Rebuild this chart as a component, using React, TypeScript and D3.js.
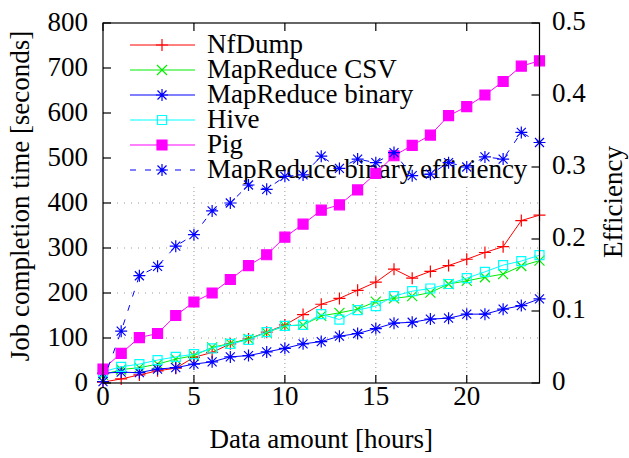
import React from 'react';
import * as d3 from 'd3';

// hours of data processed
const hours = [0, 1, 2, 3, 4, 5, 6, 7, 8, 9, 10, 11, 12, 13, 14, 15, 16, 17, 18, 19, 20, 21, 22, 23, 24];

// job completion time [s]
const nfDump = [2, 9, 18, 27, 33, 57, 68, 87, 98, 113, 129, 152, 175, 188, 206, 224, 253, 233, 248, 261, 275, 290, 303, 361, 373];
const mrCsv = [18, 30, 34, 42, 53, 61, 79, 88, 98, 112, 127, 129, 149, 156, 164, 181, 188, 193, 201, 220, 227, 235, 242, 260, 272];
const mrBinary = [22, 24, 23, 31, 34, 42, 47, 58, 61, 69, 77, 87, 92, 104, 110, 121, 133, 135, 142, 144, 153, 153, 164, 172, 187];
const hive = [25, 36, 42, 51, 58, 64, 77, 87, 96, 113, 127, 129, 153, 141, 162, 171, 193, 204, 210, 220, 233, 247, 262, 271, 284];
const pig = [31, 66, 101, 110, 150, 180, 200, 230, 261, 285, 324, 353, 384, 396, 429, 466, 505, 528, 551, 594, 614, 640, 670, 704, 716];

// right axis
const efficiency = [0.002, 0.072, 0.149, 0.162, 0.19, 0.206, 0.239, 0.25, 0.275, 0.269, 0.287, 0.289, 0.315, 0.298, 0.311, 0.306, 0.32, 0.288, 0.29, 0.306, 0.3, 0.314, 0.311, 0.348, 0.334];

const xTicks = [0, 5, 10, 15, 20];
const yTicks = [0, 100, 200, 300, 400, 500, 600, 700, 800];
const y2Ticks = [0, 0.1, 0.2, 0.3, 0.4, 0.5];

const width = 629;
const height = 458;
const plot = { left: 103, right: 539.5, top: 23, bottom: 383 };
const font = "'Liberation Serif', 'DejaVu Serif', serif";
const fs = 27;

// marker shapes
const plus = (s: number) => `M${-s},0H${s}M0,${-s}V${s}`;
const cross = (s: number) => `M${-s},${-s}L${s},${s}M${-s},${s}L${s},${-s}`;
const star = (s: number) => plus(s) + cross(s * 0.75);
const square = (s: number) => `M${-s},${-s}H${s}V${s}H${-s}Z`;

const series = [
    { label: 'NfDump', values: nfDump, color: '#ff0000', marker: plus(6), fill: 'none', right: false, dash: undefined },
    { label: 'MapReduce CSV', values: mrCsv, color: '#00ee00', marker: cross(5), fill: 'none', right: false, dash: undefined },
    { label: 'MapReduce binary', values: mrBinary, color: '#0000ff', marker: star(6), fill: 'none', right: false, dash: undefined },
    { label: 'Hive', values: hive, color: '#00ffff', marker: square(4.5), fill: 'none', right: false, dash: undefined },
    { label: 'Pig', values: pig, color: '#ff00ff', marker: square(5), fill: '#ff00ff', right: false, dash: undefined },
    { label: 'MapReduce binary efficiency', values: efficiency, color: '#0000ff', marker: star(6), fill: 'none', right: true, dash: '6,9' },
];

const App = () => {
    const x = d3.scaleLinear().domain([0, 24]).range([plot.left, plot.right]);
    const y = d3.scaleLinear().domain([0, 800]).range([plot.bottom, plot.top]);
    const y2 = d3.scaleLinear().domain([0, 0.5]).range([plot.bottom, plot.top]);

    const tick = 8;

    return (
        <svg width={width} height={height}
            style={{ position: 'absolute', left: 0, top: 0, background: '#fff', fontFamily: font, fontSize: fs }}>
            {/* grid */}
            <g stroke="#999" strokeWidth={1}>
                {yTicks.filter(t => t > 0 && t < 800).map(t => (
                    <line key={'gy' + t} x1={plot.left} x2={plot.right} y1={y(t)} y2={y(t)} strokeDasharray="1,6" />
                ))}
                {xTicks.filter(t => t > 0).map(t => (
                    <line key={'gx' + t} x1={x(t)} x2={x(t)} y1={plot.top} y2={plot.bottom} strokeDasharray="1,3" />
                ))}
            </g>

            {/* opaque key */}
            <rect x={plot.left + 1} y={plot.top + 1} width={plot.right - plot.left - 2} height={162} fill="#fff" />
            {series.map((s, i) => {
                const ly = 45 + i * 25;
                return (
                    <g key={'lg' + i}>
                        <line x1={130} x2={195} y1={ly} y2={ly} stroke={s.color} strokeWidth={1} strokeDasharray={s.dash} />
                        <path d={s.marker} transform={`translate(162,${ly})`} stroke={s.color} fill={s.fill} strokeWidth={1.2} />
                        <text x={207} y={ly + 8} fill="#000">{s.label}</text>
                    </g>
                );
            })}

            {/* data */}
            {series.map((s, i) => {
                const yy = s.right ? y2 : y;
                const line = d3.line<number>().x((_, j) => x(hours[j])).y(v => yy(v));
                return (
                    <g key={'s' + i}>
                        <path d={line(s.values) || ''} fill="none" stroke={s.color} strokeWidth={1} strokeDasharray={s.dash} />
                        {s.values.map((v, j) => (
                            <path key={j} d={s.marker} transform={`translate(${x(hours[j])},${yy(v)})`}
                                stroke={s.color} fill={s.fill} strokeWidth={1.2} />
                        ))}
                    </g>
                );
            })}

            {/* frame and ticks */}
            <rect x={plot.left} y={plot.top} width={plot.right - plot.left} height={plot.bottom - plot.top}
                fill="none" stroke="#000" strokeWidth={1.2} />
            <g stroke="#000" strokeWidth={1.2}>
                {xTicks.map(t => (
                    <g key={'tx' + t}>
                        <line x1={x(t)} x2={x(t)} y1={plot.bottom} y2={plot.bottom - tick} />
                        <line x1={x(t)} x2={x(t)} y1={plot.top} y2={plot.top + tick} />
                    </g>
                ))}
                {yTicks.map(t => (
                    <line key={'ty' + t} x1={plot.left} x2={plot.left + tick} y1={y(t)} y2={y(t)} />
                ))}
                {y2Ticks.map(t => (
                    <line key={'ty2' + t} x1={plot.right} x2={plot.right - tick} y1={y2(t)} y2={y2(t)} />
                ))}
            </g>

            {/* tick labels */}
            {xTicks.map(t => (
                <text key={'lx' + t} x={x(t)} y={405} textAnchor="middle">{t}</text>
            ))}
            {yTicks.map(t => (
                <text key={'ly' + t} x={88} y={y(t) + 8} textAnchor="end">{t}</text>
            ))}
            {y2Ticks.map(t => (
                <text key={'ly2' + t} x={552} y={y2(t) + 7} textAnchor="start">{t}</text>
            ))}

            {/* axis titles */}
            <text x={(plot.left + plot.right) / 2} y={448} textAnchor="middle">Data amount [hours]</text>
            <text transform="translate(29,196) rotate(-90)" textAnchor="middle">Job completion time [seconds]</text>
            <text transform="translate(622,202) rotate(-90)" textAnchor="middle">Efficiency</text>
        </svg>
    );
};

export default App;
